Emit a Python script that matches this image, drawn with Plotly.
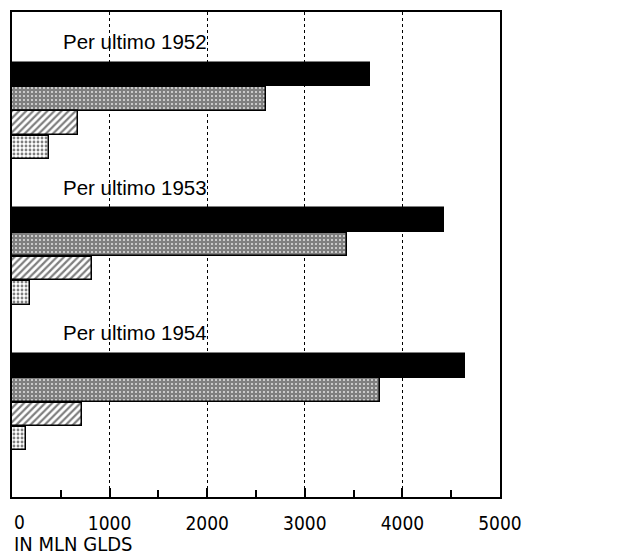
import plotly.graph_objects as go

years = ["1952", "1953", "1954"]
group_labels = ["Per ultimo 1952", "Per ultimo 1953", "Per ultimo 1954"]
black_vals = [3670, 4425, 4640]
cross_vals = [2600, 3430, 3770]
hatch_vals = [680, 820, 720]
dot_vals = [375, 180, 140]
tick_vals = [0, 1000, 2000, 3000, 4000, 5000]
tick_text = ["0", "1000", "2000", "3000", "4000", "5000"]
axis_note = "IN MLN GLDS"

GROUP_STEP = 6
series = [
    (black_vals, dict(color="black")),
    (cross_vals, dict(color="white", pattern=dict(shape="+", fgcolor="black", bgcolor="white", size=4, solidity=0.85))),
    (hatch_vals, dict(color="white", pattern=dict(shape="/", fgcolor="black", bgcolor="white", size=5, solidity=0.45))),
    (dot_vals, dict(color="white", pattern=dict(shape=".", fgcolor="black", bgcolor="white", size=4, solidity=0.4))),
]

fig = go.Figure()
for j, (vals, mk) in enumerate(series):
    ys = [g * GROUP_STEP + j for g in range(len(years))]
    mk = dict(mk)
    mk["line"] = dict(color="black", width=1.5)
    fig.add_trace(go.Bar(orientation="h", x=vals, y=ys, width=0.97, marker=mk,
                         showlegend=False, hoverinfo="x"))

for g, lab in enumerate(group_labels):
    fig.add_annotation(x=505, y=g * GROUP_STEP - 1.35, xref="x", yref="y", text=lab,
                       showarrow=False, xanchor="left", yanchor="middle",
                       font=dict(family="Liberation Sans", size=20.5, color="black"))

# first tick label drawn left-aligned so it stays inside the page
fig.add_annotation(x=tick_vals[0], y=-0.052, xref="x", yref="paper", text=tick_text[0],
                   showarrow=False, xanchor="left", yanchor="middle",
                   font=dict(family="DejaVu Sans Condensed, DejaVu Sans", size=19, color="black"))

fig.add_annotation(x=0.0, y=-0.096, xref="paper", yref="paper", text=axis_note,
                   showarrow=False, xanchor="left", yanchor="middle",
                   font=dict(family="DejaVu Sans Condensed, DejaVu Sans", size=20, color="black"))

fig.update_layout(
    width=633, height=547,
    margin=dict(l=4, r=141, t=4, b=58, autoexpand=False),
    paper_bgcolor="white", plot_bgcolor="white",
    barmode="overlay", bargap=0,
    font=dict(family="DejaVu Sans Condensed, DejaVu Sans", size=19, color="black"),
)
fig.update_xaxes(range=[0, 5000], tickvals=tick_vals, ticktext=[""] + tick_text[1:], automargin=False,
                 showline=True, linecolor="black", linewidth=2, mirror=True,
                 ticks="inside", ticklen=9, tickcolor="black", tickwidth=1.5,
                 minor=dict(dtick=500, ticks="inside", ticklen=7, tickcolor="black", tickwidth=1.5, showgrid=False),
                 showgrid=True, gridcolor="black", griddash="dot", gridwidth=1,
                 zeroline=False, ticklabelstandoff=8)
fig.update_yaxes(range=[17.41, -2.58], showticklabels=False, showgrid=False, zeroline=False,
                 automargin=False,
                 showline=True, linecolor="black", linewidth=2, mirror=True, ticks="")

fig.write_html("out.html")
